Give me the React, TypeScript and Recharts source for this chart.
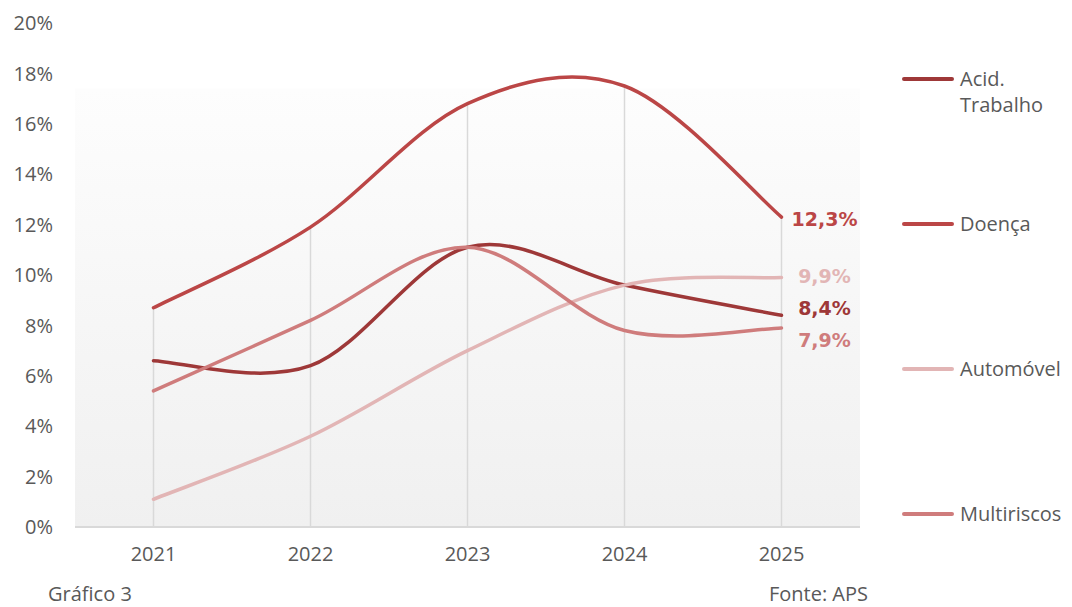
import React from 'react';
import { LineChart, Line, XAxis, YAxis, ReferenceArea, ReferenceLine, Legend } from 'recharts';

// ---- data ----
const years = ['2021', '2022', '2023', '2024', '2025'];
const acidTrabalho = [6.6, 6.4, 11.1, 9.6, 8.4];
const doenca = [8.7, 11.9, 16.8, 17.5, 12.3];
const automovel = [1.1, 3.6, 7.0, 9.6, 9.9];
const multiriscos = [5.4, 8.2, 11.1, 7.8, 7.9];
const yTicks = [0, 2, 4, 6, 8, 10, 12, 14, 16, 18, 20];
const seriesNames = ['Acid. Trabalho', 'Doença', 'Automóvel', 'Multiriscos'];
const caption = 'Gráfico 3';
const source = 'Fonte: APS';

// ---- styles ----
const seriesStyle = [
  { key: 'acid', color: '#9e3838', labelDy: -7 },
  { key: 'doenca', color: '#bb4646', labelDy: 2 },
  { key: 'auto', color: '#e2b5b5', labelDy: -2 },
  { key: 'multi', color: '#cf7c7c', labelDy: 12 },
];

const data = years.map((year, i) => ({
  year,
  acid: acidTrabalho[i],
  doenca: doenca[i],
  auto: automovel[i],
  multi: multiriscos[i],
  top: Math.max(acidTrabalho[i], doenca[i], automovel[i], multiriscos[i]),
}));

const FONT = '"Open Sans", sans-serif';
const TEXT = '#595959';

// Excel-like smoothing (Catmull-Rom Bezier)
const excelCurve = (context: any) => {
  let pts: [number, number][] = [];
  return {
    areaStart() {},
    areaEnd() {},
    lineStart() {
      pts = [];
    },
    point(x: number, y: number) {
      pts.push([+x, +y]);
    },
    lineEnd() {
      if (!pts.length) return;
      context.moveTo(pts[0][0], pts[0][1]);
      for (let i = 0; i < pts.length - 1; i++) {
        const p0 = pts[i - 1] || pts[i];
        const p1 = pts[i];
        const p2 = pts[i + 1];
        const p3 = pts[i + 2] || p2;
        const c1x = p1[0] + (p2[0] - p0[0]) / 6;
        const c1y = p1[1] + (p2[1] - p0[1]) / 6;
        const c2x = p2[0] - (p3[0] - p1[0]) / 6;
        const c2y = p2[1] - (p3[1] - p1[1]) / 6;
        context.bezierCurveTo(c1x, c1y, c2x, c2y, p2[0], p2[1]);
      }
    },
  };
};

const makeLabel = (color: string, dy: number) => (props: any) => {
  const { x, y, value, index } = props;
  if (index !== years.length - 1) return null;
  return (
    <text
      x={x + 43}
      y={y + dy}
      fill={color}
      textAnchor="middle"
      dominantBaseline="central"
      style={{ fontFamily: '"DejaVu Sans", sans-serif', fontWeight: 700, fontSize: 19 }}
    >
      {Number(value).toFixed(1).replace('.', ',') + '%'}
    </text>
  );
};

const LegendContent = () => (
  <div style={{ fontFamily: FONT, fontSize: 20, color: TEXT }}>
    {seriesNames.map((name, i) => (
      <div key={name} style={{ height: 145, display: 'flex', alignItems: 'flex-start' }}>
        <div style={{ width: 60, height: 26, display: 'flex', alignItems: 'center', flexShrink: 0 }}>
          <div style={{ marginLeft: 2, width: 52, height: 4, borderRadius: 2, background: seriesStyle[i].color }} />
        </div>
        <div style={{ lineHeight: '26px', width: 108, whiteSpace: 'normal' }}>{name}</div>
      </div>
    ))}
  </div>
);

export default function App() {
  return (
    <div style={{ position: 'absolute', left: 0, top: 0, width: 1072, height: 607, background: '#fff', overflow: 'hidden' }}>
      <LineChart
        width={1072}
        height={607}
        data={data}
        margin={{ top: 23, right: 212, bottom: 50, left: 0 }}
      >
        <defs>
          <linearGradient id="plotBg" x1="0" y1="0" x2="0" y2="1">
            <stop offset="0%" stopColor="#fdfdfd" />
            <stop offset="100%" stopColor="#f0f0f0" />
          </linearGradient>
        </defs>
        <ReferenceArea y1={0} y2={17.4} fill="url(#plotBg)" fillOpacity={1} stroke="none" ifOverflow="visible" />
        <XAxis
          dataKey="year"
          scale="band"
          height={30}
          tickLine={false}
          tickSize={0}
          tickMargin={20}
          axisLine={{ stroke: '#d9d9d9', strokeWidth: 2 }}
          tick={{ fill: TEXT, fontSize: 20, fontFamily: FONT }}
          interval={0}
        />
        <YAxis
          width={75}
          domain={[0, 20]}
          ticks={yTicks}
          tickFormatter={(v: number) => `${v}%`}
          axisLine={false}
          tickLine={false}
          tickSize={0}
          tickMargin={22}
          tick={{ fill: TEXT, fontSize: 20, fontFamily: FONT }}
          interval={0}
        />
        {data.map((d) => (
          <ReferenceLine
            key={d.year}
            segment={[
              { x: d.year, y: 0 },
              { x: d.year, y: d.top },
            ]}
            stroke="#d9d9d9"
            strokeWidth={1.5}
            ifOverflow="visible"
          />
        ))}
        {seriesStyle.map((s, i) => (
          <Line
            key={s.key}
            dataKey={s.key}
            name={seriesNames[i]}
            type={excelCurve as any}
            stroke={s.color}
            strokeWidth={3.5}
            strokeLinecap="round"
            dot={false}
            activeDot={false}
            isAnimationActive={false}
            label={makeLabel(s.color, s.labelDy)}
          />
        ))}
        <Legend
          layout="vertical"
          align="center"
          verticalAlign="middle"
          content={<LegendContent />}
          wrapperStyle={{ left: 900, top: 66, width: 172, height: 530 }}
        />
      </LineChart>
      <div
        style={{
          position: 'absolute',
          left: 48,
          top: 585,
          fontFamily: FONT,
          fontSize: 20,
          color: TEXT,
          lineHeight: '18px',
          whiteSpace: 'nowrap',
        }}
      >
        {caption}
      </div>
      <div
        style={{
          position: 'absolute',
          right: 1072 - 868,
          top: 585,
          fontFamily: FONT,
          fontSize: 20,
          color: TEXT,
          lineHeight: '18px',
          whiteSpace: 'nowrap',
        }}
      >
        {source}
      </div>
    </div>
  );
}
